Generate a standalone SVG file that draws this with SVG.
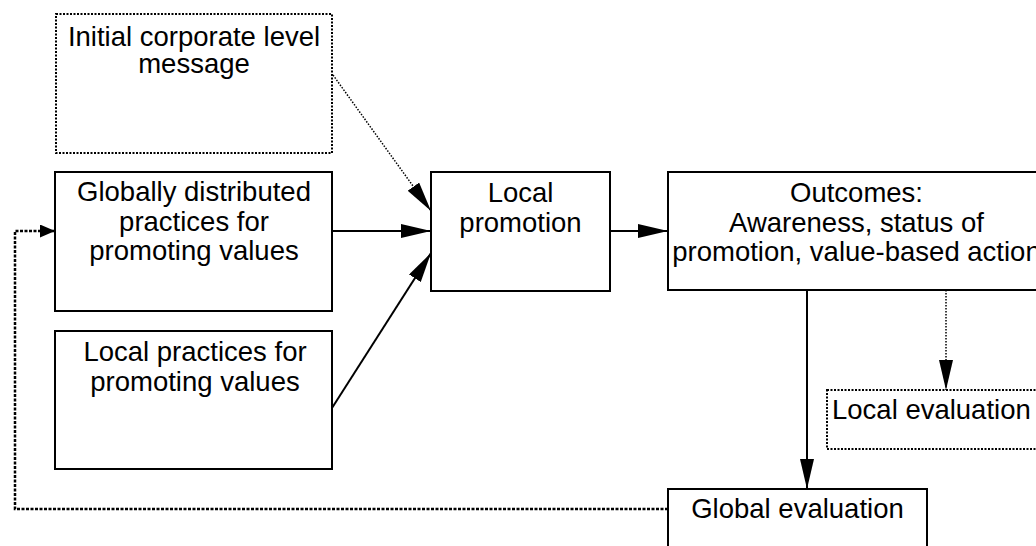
<svg xmlns="http://www.w3.org/2000/svg" width="1036" height="546" viewBox="0 0 1036 546">
  <style>
    text { font-family: "Liberation Sans", Arial, sans-serif; font-size: 27.5px; fill: #000; }
    .c { text-anchor: middle; }
    .box { fill: #fff; stroke: #000; stroke-width: 2; }
    .dbox { fill: #fff; stroke: #000; stroke-width: 2; stroke-dasharray: 2 1.5; }
    .solid { fill: none; stroke: #000; stroke-width: 2; }
    .dot { fill: none; stroke: #000; stroke-width: 1.5; stroke-dasharray: 1.5 1.5; }
    .feedback { fill: none; stroke: #000; stroke-width: 2.5; stroke-dasharray: 3 1.5; }
  </style>
  <defs>
    <marker id="head" markerUnits="userSpaceOnUse" markerWidth="30" markerHeight="14" refX="30" refY="7" orient="auto">
      <path d="M0,0 L30,7 L0,14 Z" fill="#000"/>
    </marker>
    <marker id="headSmall" markerUnits="userSpaceOnUse" markerWidth="15" markerHeight="13" refX="15" refY="6.5" orient="auto">
      <path d="M0,0 L15,6.5 L0,13 Z" fill="#000"/>
    </marker>
  </defs>
  <rect width="1036" height="546" fill="#fff"/>

  <g id="initial-message">
    <rect class="dbox" x="56" y="14" width="276" height="139"/>
    <text class="c" x="194" y="46">Initial corporate level</text>
    <text class="c" x="194" y="73">message</text>
  </g>

  <g id="global-practices">
    <rect class="box" x="55" y="172" width="277" height="139"/>
    <text class="c" x="194" y="201">Globally distributed</text>
    <text class="c" x="194" y="230.5">practices for</text>
    <text class="c" x="194" y="260">promoting values</text>
  </g>

  <g id="local-practices">
    <rect class="box" x="55" y="331" width="277" height="138"/>
    <text class="c" x="195" y="361">Local practices for</text>
    <text class="c" x="195" y="391">promoting values</text>
  </g>

  <g id="local-promotion">
    <rect class="box" x="431" y="172" width="179" height="119"/>
    <text class="c" x="520.5" y="201.5">Local</text>
    <text class="c" x="520.5" y="232">promotion</text>
  </g>

  <g id="outcomes">
    <rect class="box" x="668" y="172" width="380" height="118"/>
    <text class="c" x="856.5" y="201.5">Outcomes:</text>
    <text class="c" x="856.5" y="231.5">Awareness, status of</text>
    <text class="c" x="856.5" y="261">promotion, value-based action</text>
  </g>

  <g id="local-evaluation">
    <rect class="dbox" x="827" y="390" width="220" height="59"/>
    <text x="832" y="419">Local evaluation</text>
  </g>

  <g id="global-evaluation">
    <rect class="box" x="668" y="489" width="259" height="70"/>
    <text class="c" x="797.5" y="518">Global evaluation</text>
  </g>

  <g id="connectors">
    <path class="dot" d="M333,75 L431,211" marker-end="url(#head)"/>
    <path class="solid" d="M332,231 L431,231" marker-end="url(#head)"/>
    <path class="solid" d="M332,408 L431,253" marker-end="url(#head)"/>
    <path class="solid" d="M610,231 L668,231" marker-end="url(#head)"/>
    <path class="solid" d="M807,290 L807,489" marker-end="url(#head)"/>
    <path class="dot" d="M946,290 L946,390" marker-end="url(#head)"/>
    <path class="feedback" d="M668,509 L15,509 L15,231 L55,231" marker-end="url(#headSmall)"/>
  </g>
</svg>
